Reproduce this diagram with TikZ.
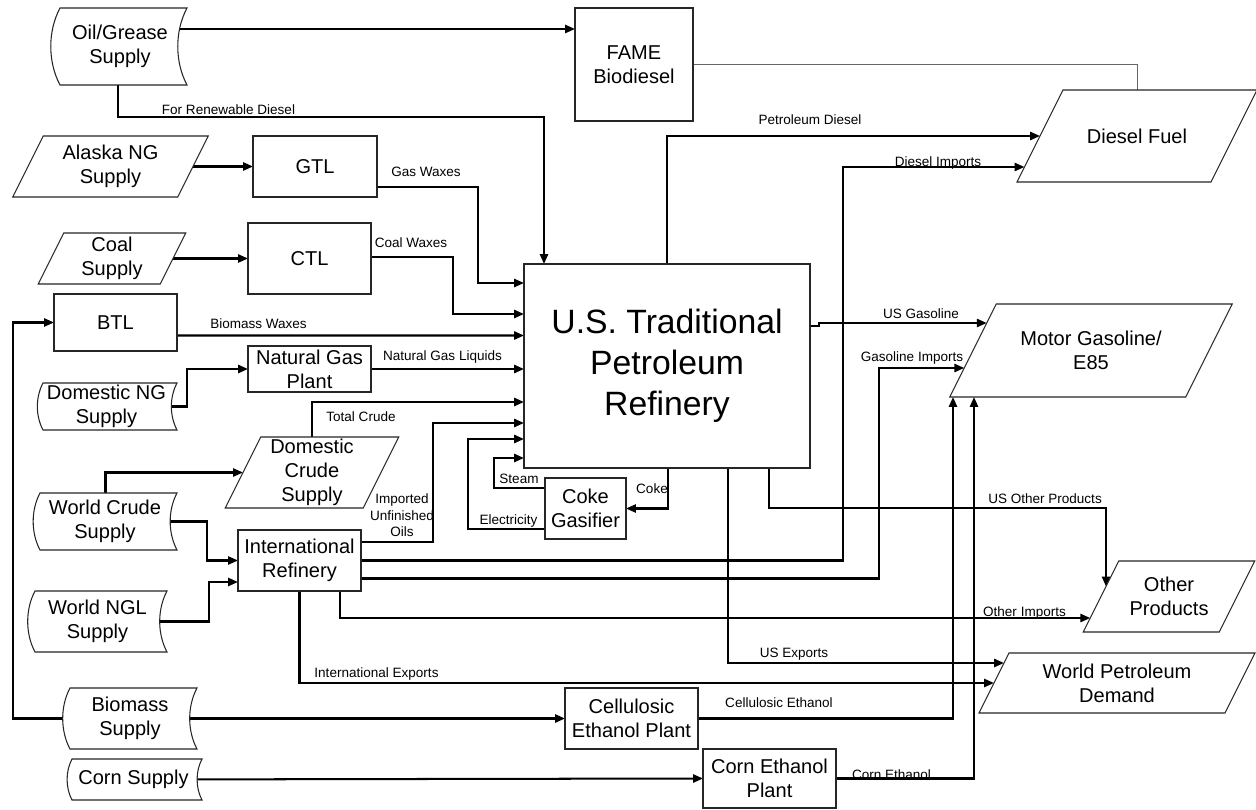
\documentclass[tikz,border=0pt]{standalone}
\usepackage{fontspec}
\setmainfont{Liberation Sans}
\usetikzlibrary{arrows.meta,calc}

\pgfdeclarelayer{paper}
\pgfdeclarelayer{wires}
\pgfsetlayers{paper,wires,main}

\newcommand\boxtxt{\fontsize{11.4pt}{13.7pt}\selectfont}
\newcommand\hugetxt{\fontsize{19.2pt}{23.3pt}\selectfont}
\newcommand\tagtxt{\fontsize{7.7pt}{9.4pt}\selectfont}

\newdimen\sdXa \newdimen\sdXb \newdimen\sdYa \newdimen\sdYb
\newdimen\sdLeft \newdimen\sdRight \newdimen\sdUpper \newdimen\sdLower \newdimen\sdK

\makeatletter
% "stored data" outline: convex left side, concave right side;
% the outline sits 2pt right of the text so the label looks centred
\pgfdeclareshape{storedata}{
  \inheritsavedanchors[from=rectangle]
  \inheritanchorborder[from=rectangle]
  \inheritanchor[from=rectangle]{center}
  \inheritanchor[from=rectangle]{north}
  \inheritanchor[from=rectangle]{south}
  \inheritanchor[from=rectangle]{east}
  \inheritanchor[from=rectangle]{west}
  \inheritanchor[from=rectangle]{north east}
  \inheritanchor[from=rectangle]{north west}
  \inheritanchor[from=rectangle]{south east}
  \inheritanchor[from=rectangle]{south west}
  \inheritanchor[from=rectangle]{base}
  \inheritanchor[from=rectangle]{mid}
  \backgroundpath{%
    \southwest \sdXa=\pgf@x \sdYa=\pgf@y
    \northeast \sdXb=\pgf@x \sdYb=\pgf@y
    \advance\sdXa by 2pt \advance\sdXb by 2pt
    \sdK=\sdYb \advance\sdK by -\sdYa
    \sdLeft=\sdXa \advance\sdLeft by -0.16\sdK
    \sdRight=\sdXb \advance\sdRight by -0.16\sdK
    \sdUpper=\sdYb \advance\sdUpper by -0.3\sdK
    \sdLower=\sdYa \advance\sdLower by 0.3\sdK
    \pgfpathmoveto{\pgfqpoint{\sdXa}{\sdYb}}%
    \pgfpathlineto{\pgfqpoint{\sdXb}{\sdYb}}%
    \pgfpathcurveto{\pgfqpoint{\sdRight}{\sdUpper}}{\pgfqpoint{\sdRight}{\sdLower}}{\pgfqpoint{\sdXb}{\sdYa}}%
    \pgfpathlineto{\pgfqpoint{\sdXa}{\sdYa}}%
    \pgfpathcurveto{\pgfqpoint{\sdLeft}{\sdLower}}{\pgfqpoint{\sdLeft}{\sdUpper}}{\pgfqpoint{\sdXa}{\sdYb}}%
    \pgfpathclose
  }
}
% parallelogram leaning right, sides with slope 1:2
\pgfdeclareshape{slantbox}{
  \inheritsavedanchors[from=rectangle]
  \inheritanchorborder[from=rectangle]
  \inheritanchor[from=rectangle]{center}
  \inheritanchor[from=rectangle]{north}
  \inheritanchor[from=rectangle]{south}
  \inheritanchor[from=rectangle]{east}
  \inheritanchor[from=rectangle]{west}
  \inheritanchor[from=rectangle]{north east}
  \inheritanchor[from=rectangle]{north west}
  \inheritanchor[from=rectangle]{south east}
  \inheritanchor[from=rectangle]{south west}
  \inheritanchor[from=rectangle]{base}
  \inheritanchor[from=rectangle]{mid}
  \backgroundpath{%
    \southwest \sdXa=\pgf@x \sdYa=\pgf@y
    \northeast \sdXb=\pgf@x \sdYb=\pgf@y
    \sdK=\sdYb \advance\sdK by -\sdYa
    \sdK=0.25\sdK
    \sdLeft=\sdXa \advance\sdLeft by \sdK
    \sdRight=\sdXb \advance\sdRight by \sdK
    \sdUpper=\sdXb \advance\sdUpper by -\sdK
    \sdLower=\sdXa \advance\sdLower by -\sdK
    \pgfpathmoveto{\pgfqpoint{\sdLeft}{\sdYb}}%
    \pgfpathlineto{\pgfqpoint{\sdRight}{\sdYb}}%
    \pgfpathlineto{\pgfqpoint{\sdUpper}{\sdYa}}%
    \pgfpathlineto{\pgfqpoint{\sdLower}{\sdYa}}%
    \pgfpathclose
  }
}
\makeatother

\tikzset{
  base/.style={outer sep=0pt, inner sep=0pt, align=center, fill=white,
    draw=black!85, line width=0.6pt, font=\boxtxt},
  proc/.style={base, shape=rectangle},
  store/.style={base, shape=storedata},
  slant/.style={base, shape=slantbox},
  sz/.style 2 args={minimum width=#1*0.02cm, minimum height=#2*0.02cm},
  flow/.style={draw=black, line width=1.15pt, -{Triangle[length=5.6pt,width=4.6pt]}},
  feed/.style={draw=black!60, line width=0.55pt},
  lbl/.style={font=\tagtxt, inner sep=0pt, anchor=base},
}

\begin{document}
\begin{tikzpicture}[x=0.02cm, y=-0.02cm]
\useasboundingbox (0,0) rectangle (1256,810);
\begin{pgfonlayer}{paper}
  \fill[white] (0,0) rectangle (1256,810);
\end{pgfonlayer}

% supplies
\node[store, sz={127}{77}] (oil) at (120,46.5) {Oil/Grease\\Supply};
\node[slant, sz={165}{61}] (alaska) at (110.5,166.5) {Alaska NG\\Supply};
\node[slant, sz={122}{51}] (coal) at (112,258.5) {Coal\\Supply};
\node[store, sz={134}{47}] (dng) at (106.5,406.5) {Domestic NG\\Supply};
\node[slant, sz={138}{71}] (dcrude) at (312,472.5) {Domestic\\Crude\\Supply};
\node[store, sz={137}{57}] (wcrude) at (105,521.5) {World Crude\\Supply};
\node[store, sz={132}{61}] (wngl) at (97.5,621.5) {World NGL\\Supply};
\node[store, sz={127}{61}] (biomass) at (130,718.5) {Biomass\\Supply};
\node[store, sz={130}{41}] (corn) at (133.5,779.5) {Corn Supply};

% conversion plants
\node[proc, sz={118}{113}] (fame) at (634,64.5) {FAME\\Biodiesel};
\node[proc, sz={124}{61}] (gtl) at (315,166.5) {GTL};
\node[proc, sz={123}{71}] (ctl) at (309.5,258.5) {CTL};
\node[proc, sz={123}{57}] (btl) at (115.5,322.5) {BTL};
\node[proc, sz={123}{46}] (ngp) at (309.5,369) {Natural Gas\\Plant};
\node[proc, sz={123}{61}] (intl) at (299.5,560.5) {International\\Refinery};
\node[proc, sz={133}{61}] (cell) at (631.5,718.5) {Cellulosic\\Ethanol Plant};
\node[proc, sz={133}{59}] (cornpl) at (769.5,778.5) {Corn Ethanol\\Plant};
\node[proc, sz={286}{204}, font=\hugetxt] (refinery) at (667,366) {U.S. Traditional\\Petroleum\\Refinery};
\node[proc, sz={81}{61}] (coke) at (585.5,508.5) {Coke\\Gasifier};

% demands
\node[slant, sz={194}{92}] (diesel) at (1137,136) {Diesel Fuel};
\node[slant, sz={236}{93}] (mogas) at (1091,350.5) {Motor Gasoline/\\E85};
\node[slant, sz={136}{71}] (other) at (1169,596.5) {Other\\Products};
\node[slant, sz={246}{60}] (wpd) at (1117,683) {World Petroleum\\Demand};

\begin{pgfonlayer}{wires}
  % feeds into plants and refinery
  \draw[flow] ($(oil.center)+(0,-17.5)$) -- ($(fame.west)+(0,-35.5)$);
  \draw[flow] ($(oil.south)+(-2,0)$) |- ($(refinery.north)+(-123,-147)$) -- ($(refinery.north)+(-123,0)$);
  \draw[feed] (fame.east) -| (diesel.north);
  \draw[flow] (alaska.center) -- (gtl.west);
  \draw[flow] ($(gtl.east)+(0,20.5)$) -| ($(refinery.west)+(-46,-83)$) -- ($(refinery.west)+(0,-83)$);
  \draw[flow] (coal.center) -- (ctl.west);
  \draw[flow] ($(ctl.east)+(0,-1.5)$) -| ($(refinery.west)+(-71,-52)$) -- ($(refinery.west)+(0,-52)$);
  \draw[flow] (biomass.center) -| ($(btl.west)+(-41,0)$) -- (btl.west);
  \draw[flow] ($(btl.east)+(0,13)$) -- ($(refinery.west)+(0,-30.5)$);
  \draw[flow] (dng.center) -| ($(ngp.west)+(-61,0)$) -- (ngp.west);
  \draw[flow] (ngp.east) -- (ngp.east -| refinery.west);
  \draw[flow] (dcrude.center) |- ($(refinery.west)+(0,36)$);
  \draw[flow] ($(wcrude.center)+(0.5,0)$) |- (dcrude.west);
  \draw[flow] (wcrude.center) -| ($(intl.west)+(-31,0)$) -- (intl.west);
  \draw[flow] (wngl.center) -| ($(intl.west)+(-29,21.5)$) -- ($(intl.west)+(0,21.5)$);
  \draw[flow] ($(intl.east)+(0,-18.5)$) -| ($(refinery.west)+(-91,57)$) -- ($(refinery.west)+(0,57)$);
  \draw[flow] ($(refinery.south)+(1,0)$) |- (coke.east);
  \draw[flow] ($(coke.west)+(0,-20.5)$) -| ($(refinery.west)+(-30,92)$) -- ($(refinery.west)+(0,92)$);
  \draw[flow] ($(coke.west)+(0,20.5)$) -| ($(refinery.west)+(-56,73)$) -- ($(refinery.west)+(0,73)$);
  \draw[flow] (biomass.center) -- (cell.west);
  \draw[flow] (corn.center) -- (cornpl.west);
  % products
  \draw[flow] (refinery.north) |- (diesel.west);
  \draw[flow] (intl.east) -| ($(diesel.west)+(-197,31)$) -- ($(diesel.west)+(-15.5,31)$);
  \draw[flow] ($(refinery.east)+(0,-40)$) -- ++(9,0) -- ++(0,-3) -- ($(mogas.west)+(13.75,-27.5)$);
  \draw[flow] ($(intl.east)+(0,18)$) -| ($(mogas.west)+(-94,17.5)$) -- ($(mogas.west)+(-8.75,17.5)$);
  \draw[flow] (cell.east) -| ($(mogas.south west)+(-20,0)$);
  \draw[flow] (cornpl.east) -| ($(mogas.south west)+(1,0)$);
  \draw[flow] ($(refinery.south)+(102,0)$) |- ($(other.north west)+(5,-53)$) -- ($(other.north west)+(5,25.5)$);
  \draw[flow] ($(intl.south)+(40.5,0)$) |- ($(other.west)+(-10.75,21.5)$);
  \draw[flow] (intl.south) |- (wpd.west);
  \draw[flow] ($(refinery.south)+(61,0)$) |- ($(wpd.west)+(10,-20)$);
\end{pgfonlayer}

% flow labels
\node[lbl] (tRen) at (228.5,115) {For Renewable Diesel};
\node[lbl] (tGas) at (426,177) {Gas Waxes};
\node[lbl] (tCoal) at (411,248) {Coal Waxes};
\node[lbl] (tBio) at (258.5,329) {Biomass Waxes};
\node[lbl] (tNgl) at (442.5,360) {Natural Gas Liquids};
\node[lbl] (tCrude) at (361,421) {Total Crude};
\node[lbl, anchor=center, align=center] (tImp) at (402,515.5) {Imported\\Unfinished\\Oils};
\node[lbl] (tSteam) at (519,483) {Steam};
\node[lbl] (tElec) at (508.5,524) {Electricity};
\node[lbl] (tCoke) at (652,493) {Coke};
\node[lbl] (tPd) at (810,125) {Petroleum Diesel};
\node[lbl] (tDi) at (938,167) {Diesel Imports};
\node[lbl] (tUsg) at (921,319) {US Gasoline};
\node[lbl] (tGi) at (912,361) {Gasoline Imports};
\node[lbl] (tUop) at (1045,503) {US Other Products};
\node[lbl] (tOi) at (1024.5,616) {Other Imports};
\node[lbl] (tUse) at (794,657) {US Exports};
\node[lbl] (tIe) at (376.5,677) {International Exports};
\node[lbl] (tCe) at (779,707) {Cellulosic Ethanol};
\node[lbl] (tCne) at (891.5,779) {Corn Ethanol};
\end{tikzpicture}
\end{document}
